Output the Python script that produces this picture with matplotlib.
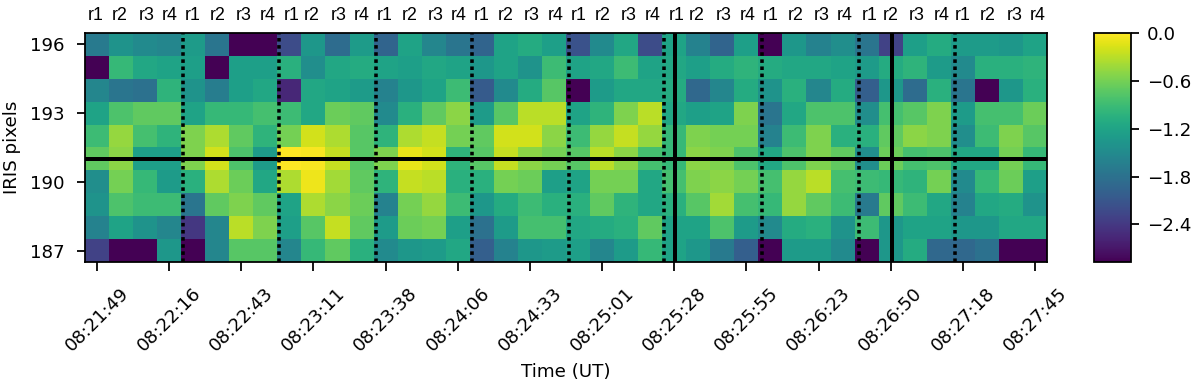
import numpy as np
import matplotlib
matplotlib.use("Agg")
import matplotlib.pyplot as plt
from matplotlib.transforms import blended_transform_factory

# pixels along the slit, top row first
pixels = [196, 195, 194, 193, 192, 191, 190, 189, 188, 187]

row_196 = [-1.7, -1.4, -1.5, -1.55, -1.3, -1.75, -2.87, -2.87, -2.2, -1.35, -1.85, -1.3, -1.95, -1.2, -1.55, -1.75, -1.95, -1.2, -1.1, -1.25, -2.15, -1.5, -1.15, -2.2, -1.2, -1.6, -1.95, -1.25, -2.87, -1.35, -1.6, -1.45, -1.75, -2.3, -1.25, -1.1, -1.3, -1.3, -1.35, -1.2]
row_195 = [-2.87, -0.95, -1.15, -1.2, -1.25, -2.87, -1.25, -1.25, -1.05, -1.45, -1.15, -1.1, -1.2, -1.25, -1.15, -1.2, -1.35, -1.2, -1.4, -0.9, -1.2, -1.15, -0.9, -1.2, -1.15, -1.25, -1.1, -1.0, -1.1, -1.15, -1.15, -1.2, -1.3, -1.1, -1.0, -1.3, -1.5, -1.05, -1.05, -1.0]
row_194 = [-1.55, -1.75, -1.8, -1.0, -1.4, -1.65, -1.25, -1.15, -2.55, -1.15, -1.2, -1.3, -1.6, -1.35, -1.2, -0.9, -2.05, -1.5, -1.1, -0.75, -2.87, -1.3, -1.15, -1.15, -1.1, -1.9, -1.55, -1.1, -1.4, -1.05, -1.55, -1.1, -2.0, -1.35, -1.85, -1.05, -1.75, -2.87, -1.35, -1.05]
row_193 = [-1.2, -0.8, -0.7, -0.7, -1.2, -0.95, -0.95, -0.85, -0.9, -1.15, -0.65, -0.7, -1.5, -1.05, -0.7, -0.5, -1.3, -0.75, -0.3, -0.3, -1.2, -1.0, -0.55, -0.3, -1.15, -1.25, -1.2, -0.55, -1.75, -1.15, -0.8, -0.8, -1.45, -0.85, -0.75, -0.55, -1.3, -0.85, -0.85, -0.65]
row_192 = [-0.9, -0.45, -0.85, -1.0, -0.55, -0.35, -0.7, -1.0, -0.6, -0.2, -0.35, -0.75, -1.0, -0.35, -0.25, -0.6, -0.7, -0.2, -0.2, -0.5, -0.9, -0.45, -0.25, -0.45, -0.95, -0.55, -0.6, -0.6, -1.6, -0.9, -0.55, -1.05, -1.05, -0.7, -0.5, -0.55, -1.45, -0.9, -0.55, -0.75]
row_191 = [-0.7, -0.5, -1.25, -1.25, -0.55, -0.2, -0.8, -1.3, 0.0, -0.03, -0.25, -0.75, -0.55, -0.1, -0.2, -1.0, -0.75, -0.25, -0.5, -0.6, -0.75, -0.3, -0.5, -0.85, -0.95, -0.5, -0.55, -0.8, -1.15, -0.8, -0.55, -0.7, -1.45, -0.65, -0.85, -0.8, -1.15, -1.15, -0.6, -0.95]
row_190 = [-1.45, -0.6, -0.95, -1.3, -1.05, -0.35, -0.65, -1.15, -0.35, -0.07, -0.4, -0.7, -1.0, -0.25, -0.3, -1.05, -1.05, -0.6, -0.65, -1.25, -1.2, -0.6, -0.6, -1.15, -0.85, -0.55, -0.5, -0.6, -0.85, -0.45, -0.3, -0.85, -0.9, -0.95, -1.0, -0.6, -1.5, -0.95, -0.65, -1.25]
row_189 = [-1.4, -0.8, -0.9, -0.9, -1.75, -0.7, -0.55, -0.7, -1.2, -0.35, -0.5, -0.65, -1.6, -0.6, -0.45, -0.9, -1.35, -1.1, -0.9, -1.05, -1.05, -0.7, -1.0, -1.15, -1.05, -0.75, -0.4, -0.85, -0.95, -0.45, -0.7, -0.9, -1.7, -0.7, -0.9, -1.15, -1.6, -1.15, -1.1, -1.4]
row_188 = [-1.6, -1.2, -1.4, -1.55, -2.4, -1.55, -0.3, -0.55, -1.25, -0.75, -0.25, -0.7, -1.3, -0.65, -0.6, -1.25, -1.8, -1.3, -0.85, -0.85, -1.15, -1.1, -1.05, -0.7, -1.2, -1.2, -0.8, -1.3, -1.5, -1.1, -1.05, -1.4, -0.9, -1.35, -1.2, -1.2, -1.35, -1.35, -1.15, -1.15]
row_187 = [-2.3, -2.87, -2.87, -1.35, -2.87, -1.55, -0.75, -0.75, -1.55, -0.95, -0.7, -1.05, -1.5, -1.35, -1.3, -1.15, -2.0, -1.6, -1.35, -1.3, -1.25, -1.55, -1.3, -0.95, -1.2, -1.35, -1.7, -2.0, -2.87, -1.3, -1.3, -1.5, -2.87, -1.35, -1.1, -1.9, -1.9, -1.8, -2.87, -2.87]

time_labels = ["08:21:49", "08:22:16", "08:22:43", "08:23:11", "08:23:38", "08:24:06", "08:24:33",
               "08:25:01", "08:25:28", "08:25:55", "08:26:23", "08:26:50", "08:27:18", "08:27:45"]
time_ticks = [0, 3, 6, 9, 12, 15, 18, 21, 24, 27, 30, 33, 36, 39]
pixel_ticks = [187, 190, 193, 196]
cbar_ticks = [0.0, -0.6, -1.2, -1.8, -2.4]

raster_labels = ["r1", "r2", "r3", "r4"] * 10
raster_x = [-0.04, 0.96, 2.08, 3.03, 3.99, 5.03, 6.11, 7.11, 8.11, 8.94, 10.06, 11.02, 11.97, 13.01,
            14.09, 15.05, 16.01, 17.01, 18.09, 19.08, 20.04, 21.04, 22.12, 23.12, 24.12, 24.95, 26.07,
            27.07, 28.02, 29.06, 30.15, 31.10, 32.14, 33.01, 34.1, 35.13, 36.0, 37.05, 38.17, 39.13]

dotted_x = [3.57, 7.55, 11.6, 15.59, 19.62, 23.58, 27.64, 31.67, 35.67]
solid_x = [24.03, 33.05]
solid_y = 191

data = np.array([row_196, row_195, row_194, row_193, row_192,
                 row_191, row_190, row_189, row_188, row_187])

plt.rcParams["font.size"] = 8.2

fig = plt.figure(figsize=(7.5, 2.40625), dpi=160)
ax = fig.add_axes([85 / 1200, 1 - 262 / 385, 962 / 1200, 229 / 385])
cax = fig.add_axes([1094 / 1200, 1 - 262 / 385, 37 / 1200, 229 / 385])

im = ax.imshow(data, cmap="viridis", vmin=-2.87, vmax=0, aspect="auto", interpolation="nearest",
               extent=[-0.5, len(row_196) - 0.5, pixels[-1] - 0.5, pixels[0] + 0.5])

for x in dotted_x:
    ax.axvline(x, color="k", linestyle=(0, (1, 1)), linewidth=1.6)
for x in solid_x:
    ax.axvline(x, color="k", linewidth=1.8)
ax.axhline(solid_y, color="k", linewidth=1.8)

ax.set_xticks(time_ticks)
ax.set_xticklabels(time_labels, rotation=45)
ax.set_yticks(pixel_ticks)
ax.tick_params(axis="x", length=4, pad=6)
ax.tick_params(axis="y", length=3.5, pad=5.5)
ax.set_xlabel("Time (UT)", labelpad=3.6)
ax.set_ylabel("IRIS pixels", labelpad=4.4)

# raster numbers above the panel
trans = blended_transform_factory(ax.transData, ax.transAxes)
for x, lab in zip(raster_x, raster_labels):
    ax.text(x, 1.04, lab, transform=trans, ha="center", va="bottom", fontsize=8,
            family="Liberation Sans")

cb = fig.colorbar(im, cax=cax)
cb.set_ticks(cbar_ticks)

fig.savefig("out.png", dpi=160)
